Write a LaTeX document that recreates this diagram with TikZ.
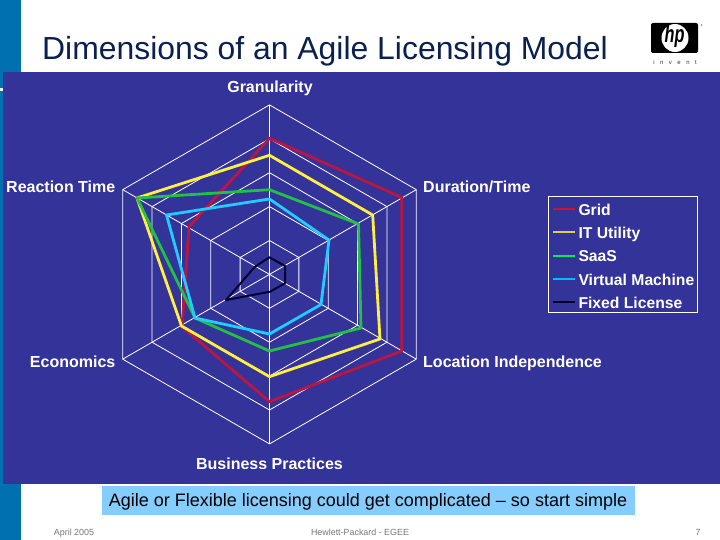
\documentclass[tikz,border=0pt]{standalone}
\usepackage{fontspec}
\setmainfont{Liberation Sans}
\definecolor{side}{HTML}{0070B0}
\definecolor{panel}{HTML}{333399}
\definecolor{titlec}{HTML}{0A2050}
\definecolor{call}{HTML}{85CCFF}
\definecolor{sred}{HTML}{BB1540}
\definecolor{syel}{HTML}{FFEE44}
\definecolor{sgre}{HTML}{22C044}
\definecolor{scya}{HTML}{22CCFF}
\definecolor{sbla}{HTML}{000033}
\definecolor{lred}{HTML}{CC1133}
\definecolor{lyel}{HTML}{DDCC55}
\definecolor{lgre}{HTML}{00EE55}
\definecolor{lcya}{HTML}{00BBFF}
\definecolor{foot}{HTML}{777777}
\tikzset{
  gridline/.style={draw=white,line width=0.8pt},
  series/.style={line width=2.8pt,line join=round},
  axislabel/.style={text=white,font=\bfseries\fontsize{16}{18}\selectfont,inner sep=0pt},
  legendlabel/.style={text=white,font=\bfseries\fontsize{15.7}{18}\selectfont,inner sep=0pt,anchor=base west},
  legline/.style={line width=2pt},
  foottext/.style={text=foot,font=\fontsize{8.9}{10}\selectfont,inner sep=0pt,anchor=base}
}
\begin{document}
\begin{tikzpicture}[x=1pt,y=-1pt]
\useasboundingbox (0,0) rectangle (720,540);
\fill[white] (0,0) rectangle (720,540);
\fill[side] (0,0) rectangle (21,540);
\fill[panel] (3,72) rectangle (720,484);
\fill[white] (0,88) rectangle (3,91);
% title
\node[anchor=base west,inner sep=0pt,text=titlec,font=\fontsize{31.9}{36}\selectfont] (title) at (42,59.8) {Dimensions of an Agile Licensing Model};
% logo
\fill[black,rounded corners=2pt] (651,23) rectangle (698,53);
\fill[white] (675,38) circle[x radius=13.5,y radius=14];
\node[inner sep=0pt,text=black,font=\bfseries\itshape\fontsize{24}{24}\selectfont,xscale=0.68] (hp) at (674.5,36.5) {hp};
\fill[gray] (701.5,25) circle (0.8);
\node[anchor=base,inner sep=0pt,text=black!80,font=\fontsize{6}{6}\selectfont] (invent) at (675,65) {i\hspace{5.5pt}n\hspace{5.5pt}v\hspace{5.5pt}e\hspace{5.5pt}n\hspace{5.5pt}t};
% grid
\coordinate (c) at (269.5,274.4);
\foreach \r in {33.9,67.8,101.7,135.6,169.5}{
  \draw[gridline] ([shift={(90:\r pt)}]c) -- ([shift={(30:\r pt)}]c) -- ([shift={(-30:\r pt)}]c) -- ([shift={(-90:\r pt)}]c) -- ([shift={(-150:\r pt)}]c) -- ([shift={(150:\r pt)}]c) -- cycle;
}
\foreach \a in {90,30,-30}{
  \draw[gridline] ([shift={(\a:169.5pt)}]c) -- ([shift={(\a+180:169.5pt)}]c);
}
% series
\draw[series,sred] (269.5,138.3) -- (401.7,197.5) -- (401.7,351) -- (269.5,401.7) -- (182,326.7) -- (189,226.7) -- cycle;
\draw[series,syel] (269.5,155.3) -- (372.7,215) -- (380,339) -- (269.5,376.7) -- (181.5,326) -- (137,198) -- cycle;
\draw[series,sgre] (269.5,189.7) -- (358.5,224) -- (361,328) -- (269.5,351) -- (195,318) -- (137,198) -- cycle;
\draw[series,scya] (269.5,199) -- (329,240) -- (321,304.5) -- (269.5,334) -- (195,318) -- (166.5,215) -- cycle;
\draw[series,sbla,line width=2pt] (269.5,257.3) -- (285,266) -- (285,283.3) -- (270,291.7) -- (226,300) -- (255,266.7) -- cycle;
% axis labels
\node[axislabel,anchor=base] (gran) at (270,92.3) {Granularity};
\node[axislabel,anchor=base east] (react) at (115.5,192.7) {Reaction Time};
\node[axislabel,anchor=base west] (dura) at (423,192.7) {Duration/Time};
\node[axislabel,anchor=base east] (econ) at (115.5,367.3) {Economics};
\node[axislabel,anchor=base west] (loc) at (423,367.3) {Location Independence};
\begin{scope}
\clip (100,440) rectangle (440,468.4);
\node[axislabel,anchor=base] (biz) at (269.5,469.5) {Business Practices};
\end{scope}
% legend
\draw[draw=white,line width=0.9pt] (548.3,196.7) rectangle (697.7,312.7);
\draw[legline,lred] (553,209) -- (575,209);
\draw[legline,lyel] (553,232) -- (575,232);
\draw[legline,lgre] (553,255.5) -- (575,255.5);
\draw[legline,lcya] (553,279) -- (575,279);
\draw[legline,sbla] (553,302) -- (575,302);
\node[legendlabel] (l1) at (578.3,215) {Grid};
\node[legendlabel] (l2) at (578.3,238.3) {IT Utility};
\node[legendlabel] (l3) at (578.3,261.5) {SaaS};
\node[legendlabel] (l4) at (578.3,285) {Virtual Machine};
\node[legendlabel] (l5) at (578.3,308) {Fixed License};
% callout
\fill[call] (102,486) rectangle (635,515);
\node[anchor=base,inner sep=0pt,text=black,font=\fontsize{18}{22}\selectfont] (callout) at (368,506.5) {Agile or Flexible licensing could get complicated -- so start simple};
% footer
\node[foottext] (f1) at (74,535) {April 2005};
\node[foottext] (f2) at (360,535) {Hewlett-Packard - EGEE};
\node[foottext] (f3) at (698,535) {7};
\end{tikzpicture}
\end{document}
